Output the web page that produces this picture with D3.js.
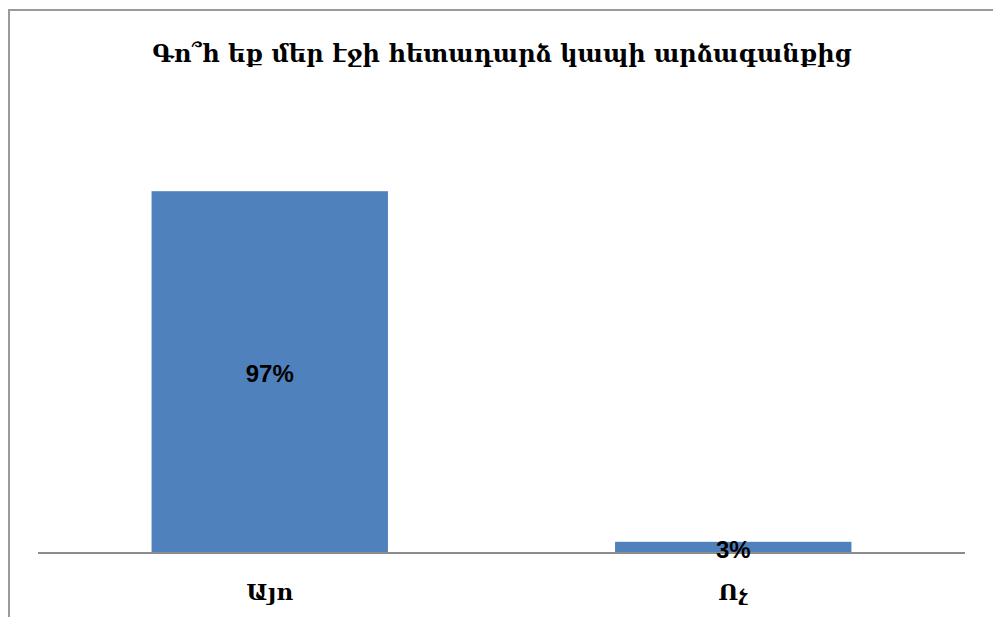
<!DOCTYPE html>
<html>
<head>
<meta charset="utf-8">
<script src="https://cdn.jsdelivr.net/npm/d3@7"></script>
<style>
  body { margin: 0; background: #fff; }
  text { font-family: "DejaVu Serif", serif; fill: #000; }
</style>
</head>
<body>
<div id="chart"></div>
<script>
// chart data
var title = "Գո՞հ եք մեր էջի հետադարձ կապի արձագանքից";
var categories = ["Այո", "Ոչ"];
var values = [0.97, 0.03];

var W = 993, H = 617;
var plot = {left: 38, right: 965, top: 180, bottom: 553};

var svg = d3.select("#chart").append("svg")
    .attr("width", W)
    .attr("height", H);

// outer frame (only left and top edges are visible)
svg.append("path")
    .attr("d", "M9,617 V10 H993")
    .attr("fill", "none")
    .attr("stroke", "#9a9a9a")
    .attr("stroke-width", 2);

var x = d3.scaleBand()
    .domain(categories)
    .range([plot.left, plot.right])
    .paddingInner(0.49)
    .paddingOuter(0.245);

var y = d3.scaleLinear()
    .domain([0, 1])
    .range([plot.bottom, plot.top]);

// bars
svg.selectAll("rect.bar")
    .data(values)
    .enter()
    .append("rect")
    .attr("class", "bar")
    .attr("x", function(d, i) { return x(categories[i]); })
    .attr("y", function(d) { return y(d); })
    .attr("width", x.bandwidth())
    .attr("height", function(d) { return y(0) - y(d); })
    .style("fill", "#4f81bd");

// baseline
svg.append("line")
    .attr("x1", plot.left)
    .attr("x2", plot.right)
    .attr("y1", y(0))
    .attr("y2", y(0))
    .attr("stroke", "#8c8c8c")
    .attr("stroke-width", 2);

// value labels
svg.selectAll("text.val")
    .data(values)
    .enter()
    .append("text")
    .attr("class", "val")
    .attr("x", function(d, i) { return x(categories[i]) + x.bandwidth() / 2; })
    .attr("y", function(d) { return (y(d) + y(0)) / 2 + 2; })
    .attr("text-anchor", "middle")
    .attr("dy", ".35em")
    .style("font-size", "24px")
    .style("font-weight", "bold")
    .style("font-family", "'Liberation Sans Narrow', 'Liberation Sans', sans-serif")
    .text(function(d) { return Math.round(d * 100) + "%"; });

// category labels
svg.selectAll("text.cat")
    .data(categories)
    .enter()
    .append("text")
    .attr("class", "cat")
    .attr("x", function(d) { return x(d) + x.bandwidth() / 2; })
    .attr("y", 592)
    .attr("text-anchor", "middle")
    .attr("dy", ".35em")
    .style("font-size", "23px")
    .style("font-weight", "bold")
    .text(function(d) { return d; });

// title
svg.append("text")
    .attr("x", 502)
    .attr("y", 54)
    .attr("text-anchor", "middle")
    .attr("dy", ".35em")
    .style("font-size", "24px")
    .style("font-weight", "bold")
    .text(title);
</script>
</body>
</html>
